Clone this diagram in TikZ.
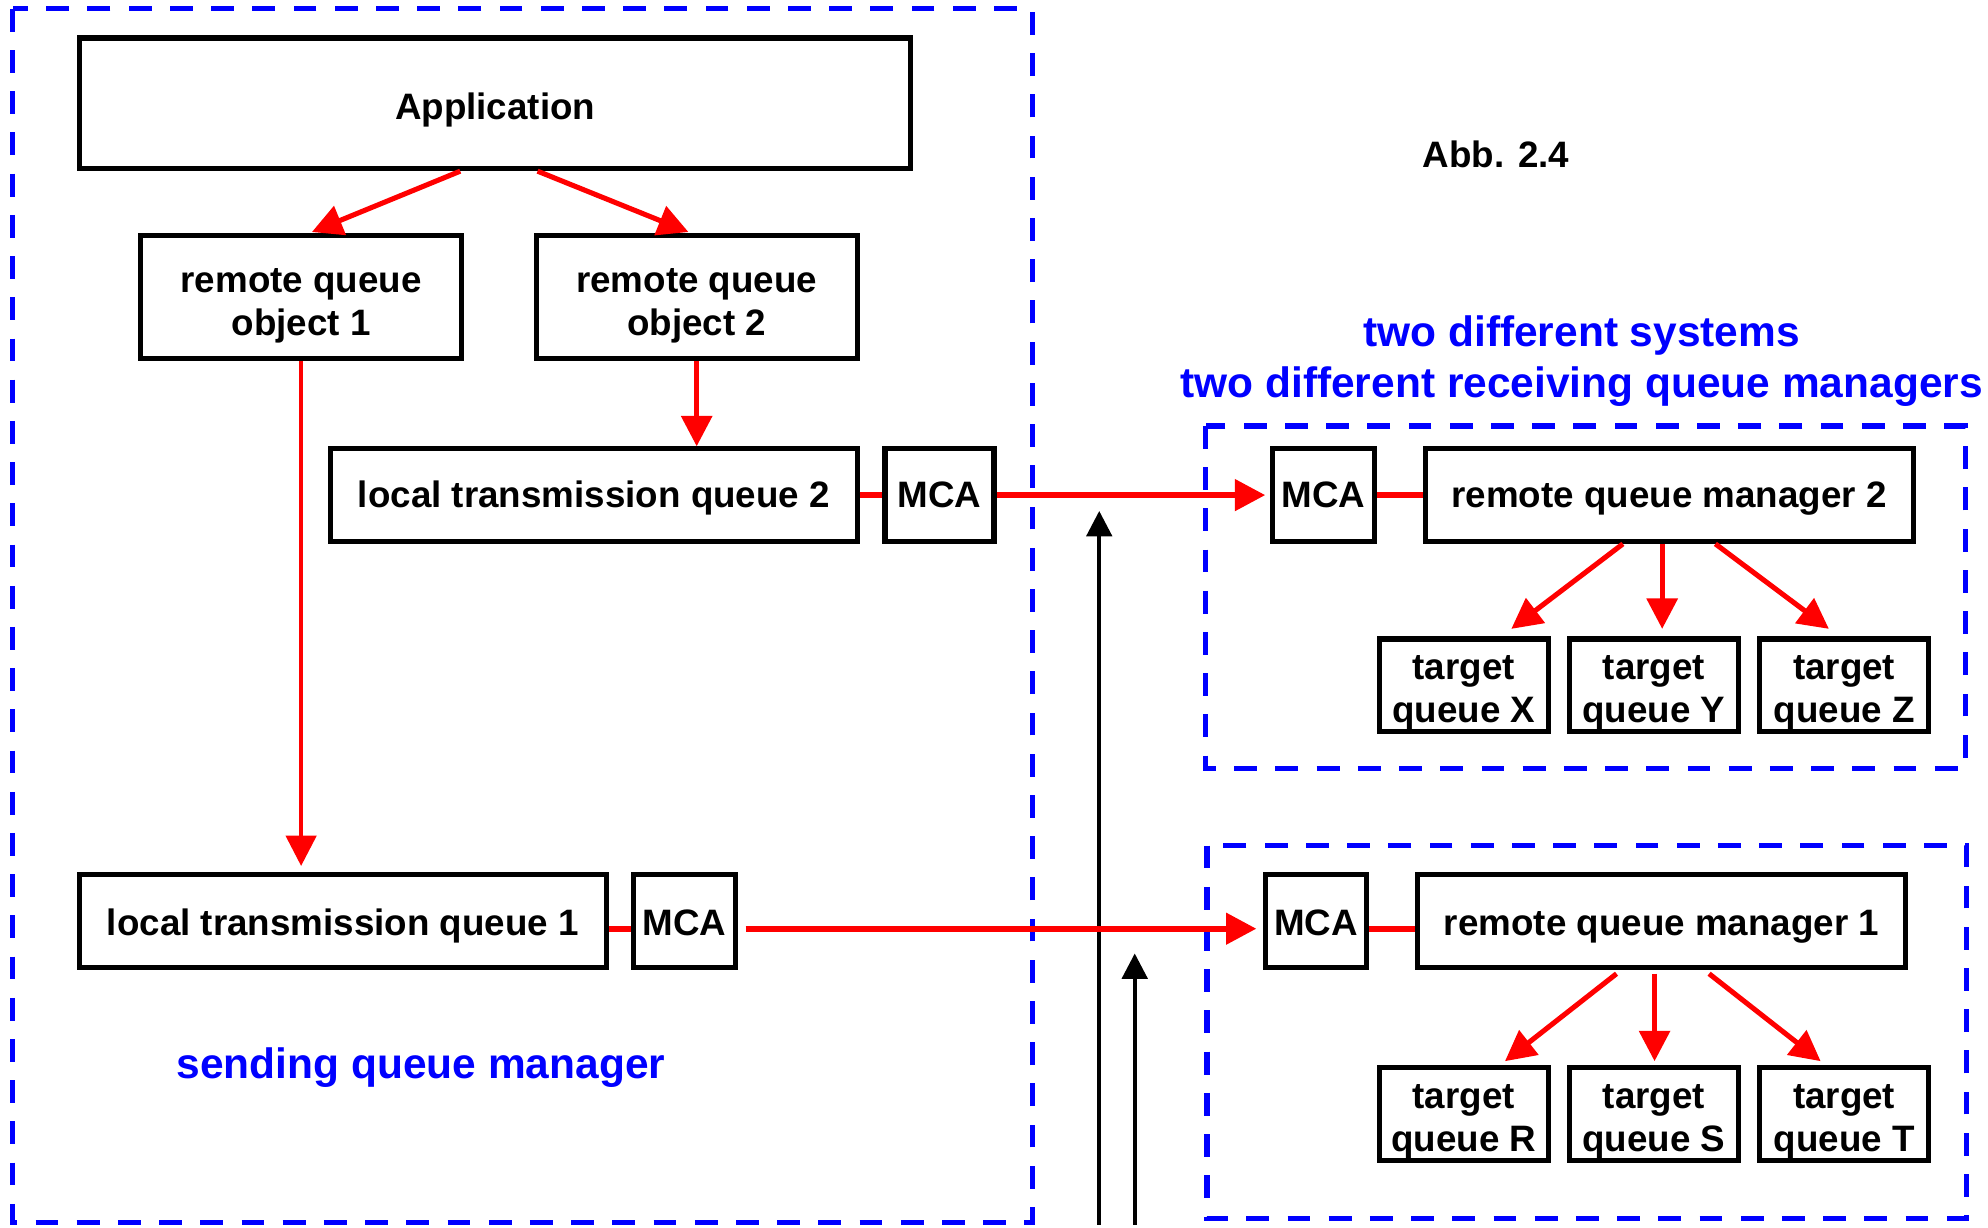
\documentclass[tikz,border=0pt]{standalone}
\usepackage{fontspec}
\setmainfont{Liberation Sans}
\usetikzlibrary{arrows.meta}

\definecolor{mblue}{RGB}{0,0,255}
\definecolor{mred}{RGB}{255,0,0}

% extra room above the first line of a two-line box label
\newcommand\toppad[1]{\rule{0pt}{#1}}

\begin{document}
\begin{tikzpicture}[x=1pt,y=-1pt,
  box/.style={draw=black, line width=4pt, inner sep=0pt, align=center,
    font=\fontsize{29}{34}\selectfont\bfseries},
  onebox/.style={box, text height=20pt, text depth=0pt},
  group/.style={draw=mblue, line width=4pt, dash pattern=on 18pt off 14.5pt},
  flow/.style={draw=mred, line width=4pt, -{Triangle[length=24pt,width=24pt]}},
  link/.style={draw=mred, line width=5pt},
  feed/.style={draw=black, line width=3pt, -{Triangle[length=20pt,width=20pt]}},
  caption/.style={text=mblue, font=\fontsize{33.5}{40}\selectfont\bfseries, align=center},
]
\useasboundingbox (0,0) rectangle (1568,968);

% queue manager borders
\draw[group] (10,7) rectangle (814,964);
\draw[group] (951,336) rectangle (1550,606);
\draw[group] (952,667) rectangle (1551,961);

% sending side
\node[onebox, text height=26pt, minimum width=655pt, minimum height=103pt] (app) at (390.5,81.5) {Application};
\node[box, minimum width=253pt, minimum height=97pt] (rqo1) at (237.5,234.5) {\toppad{33pt}remote queue\\object 1};
\node[box, minimum width=253pt, minimum height=97pt] (rqo2) at (549.5,234.5) {\toppad{33pt}remote queue\\object 2};
\node[onebox, minimum width=415pt, minimum height=73pt] (ltq2) at (468.5,390.5) {local transmission queue 2};
\node[onebox, minimum width=86pt, minimum height=73pt] (mca2) at (741,390.5) {MCA};
\node[onebox, text height=22pt, minimum width=415pt, minimum height=73pt] (ltq1) at (270.5,726.5) {local transmission queue 1};
\node[onebox, text height=22pt, minimum width=80pt, minimum height=73pt] (mca1) at (540,726.5) {MCA};

% receiving side 2
\node[onebox, minimum width=80pt, minimum height=73pt] (mcaR2) at (1044,390.5) {MCA};
\node[onebox, minimum width=385pt, minimum height=73pt] (rqm2) at (1316.5,390.5) {remote queue manager 2};
\node[box, minimum width=133pt, minimum height=73pt] (tX) at (1154.5,540.5) {\toppad{31pt}target\\queue X};
\node[box, minimum width=133pt, minimum height=73pt] (tY) at (1304.5,540.5) {\toppad{31pt}target\\queue Y};
\node[box, minimum width=133pt, minimum height=73pt] (tZ) at (1454.5,540.5) {\toppad{31pt}target\\queue Z};

% receiving side 1
\node[onebox, text height=22pt, minimum width=80pt, minimum height=73pt] (mcaR1) at (1038,726.5) {MCA};
\node[onebox, text height=22pt, minimum width=385pt, minimum height=73pt] (rqm1) at (1310.5,726.5) {remote queue manager 1};
\node[box, minimum width=133pt, minimum height=73pt] (tR) at (1154.5,878.5) {\toppad{31pt}target\\queue R};
\node[box, minimum width=133pt, minimum height=73pt] (tS) at (1304.5,878.5) {\toppad{31pt}target\\queue S};
\node[box, minimum width=133pt, minimum height=73pt] (tT) at (1454.5,878.5) {\toppad{31pt}target\\queue T};

% captions
\node[font=\fontsize{29}{34}\selectfont\bfseries] (abb) at (1180,122) {Abb. 2.4};
\node[caption] (systems) at (1247.5,285) {two different systems\\two different receiving queue managers};
\node[caption] (sending) at (332,842) {sending queue manager};

% upward black arrows
\coordinate (up1base) at (867,966);
\coordinate (up1tip) at (867,403);
\coordinate (up2base) at (895,966);
\coordinate (up2tip) at (895,752);
\draw[feed] (up1base) -- (up1tip);
\draw[feed] (up2base) -- (up2tip);

% message flow on the sending side
\draw[flow] ([xshift=-27.5pt]app.south) -- ([xshift=8.5pt,yshift=1pt]rqo1.north);
\draw[flow] ([xshift=33.5pt]app.south) -- ([xshift=-6.5pt,yshift=1pt]rqo2.north);
\draw[flow, line width=3pt] (rqo1.south) -- ([yshift=5pt]rqo1.south |- ltq1.north);
\draw[flow] (rqo2.south) -- (rqo2.south |- ltq2.north);
\draw[link] (ltq2.east) -- (mca2.west);
\draw[link] ([yshift=-6pt]ltq1.east) -- ([yshift=-6pt]mca1.west);

% channels between the queue managers
\draw[flow, line width=5pt] (mca2.east) -- ([xshift=-4pt]mcaR2.west);
\draw[flow, line width=5pt] ([xshift=6pt,yshift=-6pt]mca1.east) -- ([xshift=-5pt,yshift=-6pt]mcaR1.west);
\draw[link] (mcaR2.east) -- (rqm2.west);
\draw[link] ([yshift=-6pt]mcaR1.east) -- ([yshift=-6pt]rqm1.west);

% delivery to the target queues
\draw[flow] ([xshift=-36.5pt]rqm2.south) -- ([xshift=37.5pt,yshift=6pt]tX.north);
\draw[flow] ([xshift=-5.5pt]rqm2.south) -- ([xshift=6.5pt,yshift=6pt]tY.north);
\draw[flow] ([xshift=36.5pt]rqm2.south) -- ([xshift=-12pt,yshift=6pt]tZ.north);
\draw[flow] ([xshift=-35.5pt,yshift=-3pt]rqm1.south) -- ([xshift=32.5pt,yshift=3pt]tR.north);
\draw[flow] ([xshift=-5.5pt,yshift=-3pt]rqm1.south) -- ([xshift=0.5pt,yshift=3pt]tS.north);
\draw[flow] ([xshift=37.5pt,yshift=-3pt]rqm1.south) -- ([xshift=-18.5pt,yshift=3pt]tT.north);
\end{tikzpicture}
\end{document}
